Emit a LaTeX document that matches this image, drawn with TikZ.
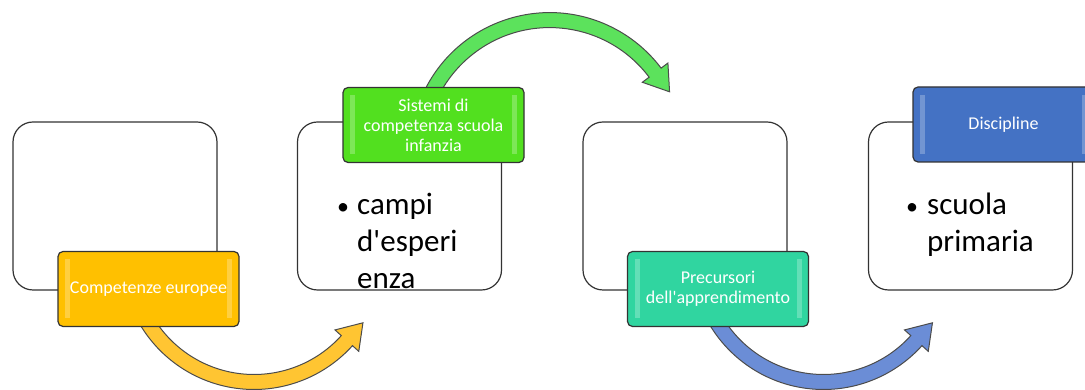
\documentclass[tikz,border=0pt]{standalone}
\usepackage{fontspec}
\setmainfont{Carlito}
\usetikzlibrary{calc,backgrounds}

\definecolor{tagyellow}{HTML}{FFC000}
\definecolor{taggreen}{HTML}{52E01F}
\definecolor{tagteal}{HTML}{30D5A0}
\definecolor{tagblue}{HTML}{4472C4}
\definecolor{bendyellow}{HTML}{FFC532}
\definecolor{bendgreen}{HTML}{5CE25C}
\definecolor{bendblue}{HTML}{6B8DD6}

% small list bullet
\newcommand{\listdot}{{\fontsize{24}{24}\selectfont\textbullet}}

% curved band with a head: colour, centre, radius, from, to
\newcommand{\bandarrow}[5]{%
  \pgfmathsetmacro{\rout}{#3+7.5}%
  \pgfmathsetmacro{\rin}{#3-7.5}%
  \pgfmathsetmacro{\rbarbout}{#3+16}%
  \pgfmathsetmacro{\rbarbin}{#3-16}%
  \pgfmathsetmacro{\tipdir}{#5>#4 ? #5+90 : #5-90}%
  \draw[bandline, fill=#1] ($(#2)+(#4:\rout)$) arc[start angle=#4, end angle=#5, radius=\rout]
    -- ($(#2)+(#5:\rbarbout)$) -- ($(#2)+(#5:#3)+(\tipdir:24)$)
    -- ($(#2)+(#5:\rbarbin)$) -- ($(#2)+(#5:\rin)$)
    arc[start angle=#5, end angle=#4, radius=\rin] -- cycle;}

\begin{document}
\begin{tikzpicture}[x=1pt,y=1pt,
		stage/.style={draw=black!80, line width=1.2pt, fill=white, rounded corners=20pt,
			minimum width=204pt, minimum height=168pt, inner sep=0pt},
		tag/.style={draw=black!80, line width=1.2pt, rounded corners=5pt, fill=#1,
			minimum width=181pt, minimum height=75pt, inner sep=0pt, text=white, align=center,
			font=\fontsize{18}{20}\selectfont,
			path picture={
				\fill[white, opacity=.25, sharp corners] ([shift={(7,-8)}]path picture bounding box.north west) rectangle ([shift={(12,8)}]path picture bounding box.south west);
				\fill[white, opacity=.25, sharp corners] ([shift={(-12,-8)}]path picture bounding box.north east) rectangle ([shift={(-7,8)}]path picture bounding box.south east);
			}},
		bandline/.style={draw=black!70, line width=1pt},
		bullettext/.style={inner sep=0pt, anchor=base west, font=\fontsize{31}{37}\selectfont}]
	\useasboundingbox (0,0) rectangle (1085,390);
			\node[stage] (stageA) at (115,184) {};
			\node[stage] (stageB) at (399.5,184) {};
			\node[stage] (stageC) at (685,184) {};
			\node[stage] (stageD) at (970.5,184) {};
				\node[tag=tagyellow] (europee) at (148.5,101) {Competenze europee};
				\node[tag=taggreen] (sistemi) at (433.5,265) {Sistemi di\\competenza scuola\\infanzia};
				\node[tag=tagteal] (precursori) at (718,101) {Precursori\\dell\textquotesingle apprendimento};
				\node[tag=tagblue] (discipline) at (1003.5,265.5) {Discipline};
			\node[bullettext] (campi) at (337,175) {\begin{tabular}[t]{@{}p{20pt}@{}l@{}}\listdot & campi\\ & d\textquotesingle esperi\\ & enza\end{tabular}};
			\node[bullettext] (primaria) at (906,175) {\begin{tabular}[t]{@{}p{21pt}@{}l@{}}\listdot & scuola\\ & primaria\end{tabular}};
		\begin{pgfonlayer}{background}
			\coordinate (bendA) at ($(europee.center)+(105.5,32)$);
			\coordinate (bendB) at ($(sistemi.center)+(116.2,-27.1)$);
			\coordinate (bendC) at ($(precursori.center)+(105.5,32)$);
			\bandarrow{bendyellow}{bendA}{125}{-150}{-42}
			\bandarrow{bendgreen}{bendB}{132}{155}{37}
			\bandarrow{bendblue}{bendC}{125}{-150}{-42}
		\end{pgfonlayer}
\end{tikzpicture}
\end{document}
